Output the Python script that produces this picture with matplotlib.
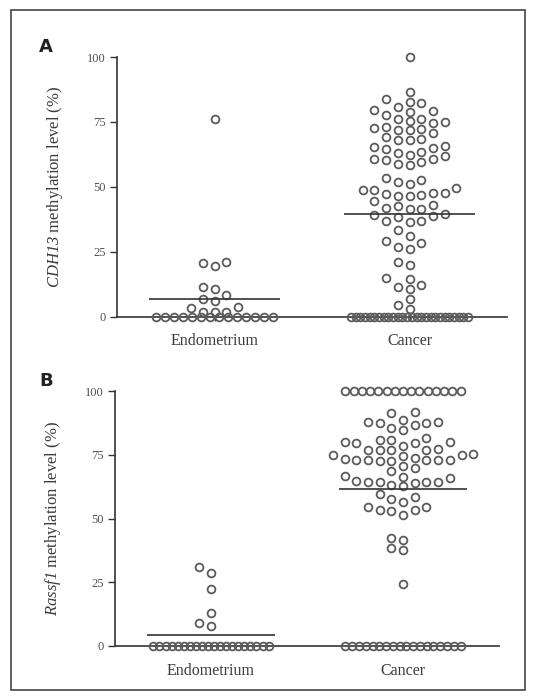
import numpy as np
import matplotlib
matplotlib.use("Agg")
import matplotlib.pyplot as plt
from matplotlib.patches import Rectangle

plt.rcParams['font.family'] = 'Liberation Serif'
plt.rcParams['mathtext.fontset'] = 'custom'
# gene names are fully italic, digits included
plt.rcParams['mathtext.rm'] = 'Liberation Serif:italic'
plt.rcParams['mathtext.it'] = 'Liberation Serif:italic'

groups = ['Endometrium', 'Cancer']
yticks = [0, 25, 50, 75, 100]

# panel A, CDH13 methylation (%)
endo_a = [76, 20.5, 19.5, 21, 10.5, 11.5, 7, 6, 8.5, 3.5, 2, 3.7, 1.7, 1.7,
          0, 0, 0, 0, 0, 0, 0, 0, 0, 0, 0, 0, 0, 0]
cancer_a = [100, 86.4, 83.8, 82.2, 82.6, 80.9, 79.2, 79.4, 79.0, 77.7, 76.3,
            75.1, 74.5, 75.3, 76.0, 72.7, 71.9, 70.6, 73.2, 71.7, 72.2, 68.1,
            68.3, 69.3, 67.9, 65.5, 64.5, 63.2, 65.0, 65.7, 63.4, 61.9, 60.8,
            59.7, 58.8, 58.6, 60.4, 60.9, 62.3, 53.3, 52.0, 51.1, 52.7, 49.5,
            48.8, 47.8, 46.9, 46.5, 46.3, 47.3, 47.6, 48.6,
            44.7, 42.7, 41.5, 41.3, 41.7, 43.1, 39.5, 38.9, 38.5, 39.3, 37.0,
            36.5, 36.8, 33.5, 30.9, 28.3, 26.0, 27.0, 29.0, 20.9, 20.0, 14.9,
            14.5, 12.3, 10.8, 11.4, 6.8, 4.6, 3.1,
            0, 0, 0, 0, 0, 0, 0, 0, 0, 0, 0, 0, 0, 0, 0, 0, 0, 0, 0, 0, 0, 0,
            0, 0, 0, 0]

# panel B, Rassf1 methylation (%)
endo_b = [30.9, 28.5, 22.5, 13.1, 9.1, 7.8,
          0, 0, 0, 0, 0, 0, 0, 0, 0, 0, 0, 0, 0, 0, 0, 0, 0, 0, 0, 0]
cancer_b = [100, 100, 100, 100, 100, 100, 100, 100, 100, 100, 100, 100, 100,
            100, 100,
            91.6, 91.4, 87.7, 87.5, 86.7, 84.7, 85.6, 87.9, 87.3, 88.6,
            81.7, 80.8, 79.9, 79.5, 78.6, 80.1, 79.7, 80.6,
            76.9, 77.1, 76.7, 76.8, 77.0, 74.9, 75.1, 74.7, 75.0, 73.6,
            72.9, 73.1, 72.7, 72.8, 73.0, 72.6, 72.9, 73.2,
            69.7, 68.7, 70.6,
            66.7, 65.8, 64.4, 64.2, 63.8, 62.7, 63.1, 64.6, 64.3, 64.5, 66.4,
            59.6, 57.5, 56.6, 58.5, 54.6, 53.3, 51.4, 53.1, 53.5, 54.4,
            41.6, 42.2, 37.6, 38.3, 24.3,
            0, 0, 0, 0, 0, 0, 0, 0, 0, 0, 0, 0, 0, 0, 0, 0, 0, 0]

mark_col = '#5b5b5b'
axis_col = '#333333'
text_col = '#3c3c3c'


def swarm(ax, vals, col_px=11.7, gap_px=9.2, tie_min=5, tie_w=0.6):
    # offsets on a column grid, tied rows squeezed into a fixed width
    vals = np.asarray(vals, float)
    p0, p1 = ax.transData.transform([(0, 0), (1, 1)])
    sx, sy = p1 - p0
    col = col_px / sx
    off = np.zeros(len(vals))
    uniq, cnt = np.unique(vals, return_counts=True)
    tied = set(uniq[cnt >= tie_min])
    for u in tied:
        idx = np.where(vals == u)[0]
        w = min((len(idx) - 1) * col, tie_w)
        off[idx] = np.linspace(-w / 2, w / 2, len(idx))
    placed = []
    rest = [i for i in np.argsort(vals) if vals[i] not in tied]
    for i in rest:
        y = vals[i] * sy
        k = 0
        while True:
            for c in ([k] if k == 0 else [-k, k]):
                if all(pc != c or abs(py - y) >= gap_px for pc, py in placed):
                    placed.append((c, y))
                    off[i] = c * col
                    break
            else:
                k += 1
                continue
            break
    return off


def panel(rect, data, gene, letter, letter_y):
    ax = fig.add_axes(rect)
    ax.set_xlim(0.5, 2.5)
    ax.set_ylim(0, 100)
    for pos, vals in zip([1, 2], data):
        off = swarm(ax, vals)
        ax.plot(pos + off, vals, 'o', ls='none', ms=5.6, mfc='none',
                mec=mark_col, mew=1.3, clip_on=False, zorder=3)
        ax.hlines(np.mean(vals), pos - 0.335, pos + 0.335, color=axis_col,
                  lw=1.2, zorder=4)
    for s in ['top', 'right']:
        ax.spines[s].set_visible(False)
    for s in ['left', 'bottom']:
        ax.spines[s].set_color(axis_col)
        ax.spines[s].set_linewidth(1.2)
    ax.set_yticks(yticks)
    ax.set_xticks([1, 2])
    ax.set_xticklabels(groups, fontsize=11.5, color=text_col)
    ax.tick_params(axis='y', length=5, width=1, color=axis_col,
                   labelsize=9, labelcolor='#505050', pad=3)
    ax.tick_params(axis='x', length=3, width=1, color=axis_col, pad=9)
    ax.set_ylabel(r'$%s$ methylation level (%%)' % gene,
                  fontsize=12, color=text_col, labelpad=16)
    fig.text(46 / 536, 1 - letter_y / 697, letter, fontsize=13,
             fontweight='bold', family='DejaVu Sans', color='#222222',
             ha='center', va='center')
    return ax


fig = plt.figure(figsize=(5.36, 6.97), dpi=100)
fig.patches.append(Rectangle((11 / 536, 7 / 697), 514 / 536, 680 / 697,
                             transform=fig.transFigure, fill=False,
                             ec='#444444', lw=1.2))

panel([117 / 536, 380.3 / 697, 390 / 536, 259.7 / 697],
      [endo_a, cancer_a], 'CDH13', 'A', 47)
panel([115 / 536, 51 / 697, 384 / 536, 255 / 697],
      [endo_b, cancer_b], 'Rassf1', 'B', 381)

fig.savefig('out.png', dpi=100)
